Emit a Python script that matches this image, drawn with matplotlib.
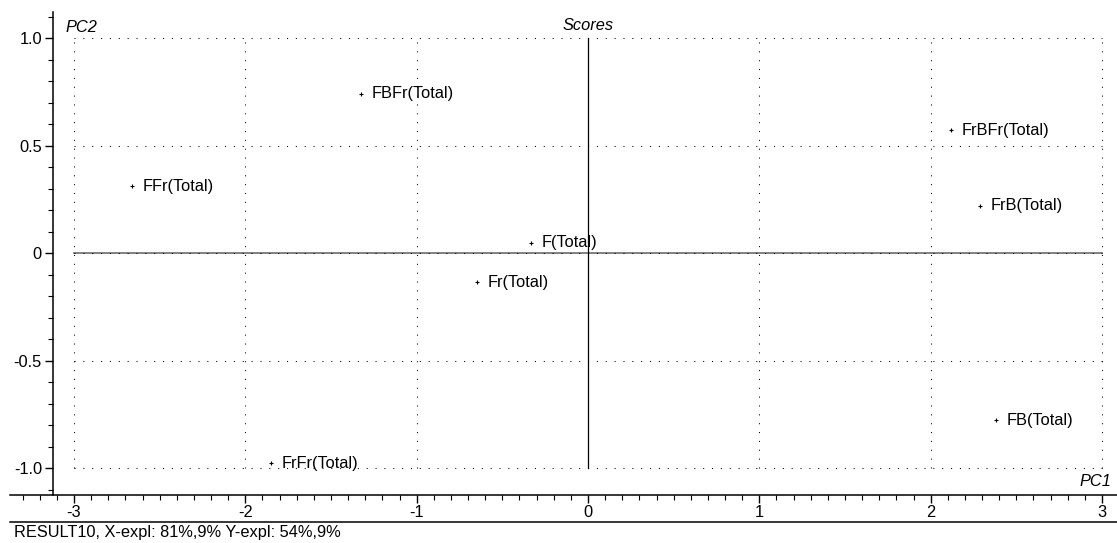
import matplotlib
matplotlib.use("Agg")
import matplotlib.pyplot as plt
from matplotlib.lines import Line2D
from matplotlib.ticker import MultipleLocator, FixedLocator, FixedFormatter

plt.rcParams['font.family'] = ['Liberation Sans', 'DejaVu Sans']

labels = ["FBFr(Total)", "FFr(Total)", "F(Total)", "Fr(Total)",
          "FrBFr(Total)", "FrB(Total)", "FB(Total)", "FrFr(Total)"]
pc1 = [-1.324, -2.66, -0.333, -0.648, 2.12, 2.29, 2.38, -1.85]
pc2 = [0.74, 0.31, 0.047, -0.135, 0.57, 0.22, -0.777, -0.977]

xticks = [-3, -2, -1, 0, 1, 2, 3]
xtick_labels = ["-3", "-2", "-1", "0", "1", "2", "3"]
yticks = [-1.0, -0.5, 0.0, 0.5, 1.0]
ytick_labels = ["-1.0", "-0.5", "0", "0.5", "1.0"]
caption = "RESULT10, X-expl: 81%,9% Y-expl: 54%,9%"

FS = 11.8
W, H = 1117, 543
fig = plt.figure(figsize=(W/100, H/100), dpi=100)
ax = fig.add_axes([10/W, 1-495/H, 1-10/W, (495-12)/H])

xmin, xmax = (10-588)/171.33, (1117-588)/171.33
ymin, ymax = (253-495)/215, (253-12)/215
ax.set_xlim(xmin, xmax)
ax.set_ylim(ymin, ymax)

for s in ['top', 'right']:
    ax.spines[s].set_visible(False)
ax.spines['left'].set_position(('data', (53-588)/171.33))
ax.spines['left'].set_linewidth(1.1)
ax.spines['bottom'].set_linewidth(1.1)

ax.xaxis.set_major_locator(FixedLocator(xticks))
ax.xaxis.set_major_formatter(FixedFormatter(xtick_labels))
ax.xaxis.set_minor_locator(MultipleLocator(0.1))
ax.yaxis.set_major_locator(FixedLocator(yticks))
ax.yaxis.set_major_formatter(FixedFormatter(ytick_labels))
ax.yaxis.set_minor_locator(MultipleLocator(0.1))
ax.tick_params(axis='both', which='major', direction='out', length=6, width=1, labelsize=FS, colors='black')
ax.tick_params(axis='both', which='minor', direction='out', length=3.5, width=0.8)
ax.tick_params(axis='x', pad=1)
ax.tick_params(axis='y', pad=2)

dot = (0, (1, 7.5))
gx = [v for v in xticks if v != 0]
gy = [v for v in yticks if v != 0]
for v in gx:
    ax.plot([v, v], [-1, 1], color='black', lw=0.75, linestyle=dot)
for v in gy:
    ax.plot([-3, 3], [v, v], color='black', lw=0.75, linestyle=dot)
ax.plot([-3, 3], [0, 0], color='#777777', lw=1.3)
ax.plot([-3, 3], [0, 0], color='black', lw=0.75, linestyle=dot)
ax.plot([0, 0], [-1, 1], color='black', lw=0.9)

ax.plot(pc1, pc2, linestyle='none', marker='+', markersize=3, color='black', markeredgewidth=0.8)
for x, y, t in zip(pc1, pc2, labels):
    ax.annotate(t, (x, y), xytext=(7.5, 0), textcoords='offset points',
                ha='left', va='center', fontsize=FS)

fig.text(588/W, 1-25/H, "Scores", ha='center', va='center', fontsize=FS, style='italic')
fig.text(65/W, 1-27/H, "PC2", ha='left', va='center', fontsize=FS, style='italic')
fig.text(1111/W, 1-482/H, "PC1", ha='right', va='center', fontsize=FS, style='italic')

fig.add_artist(Line2D([10/W, 1], [1-522/H, 1-522/H], color='black', lw=1.1))
fig.text(14/W, 1-533/H, caption, ha='left', va='center', fontsize=FS)

fig.savefig("out.png", dpi=100)
